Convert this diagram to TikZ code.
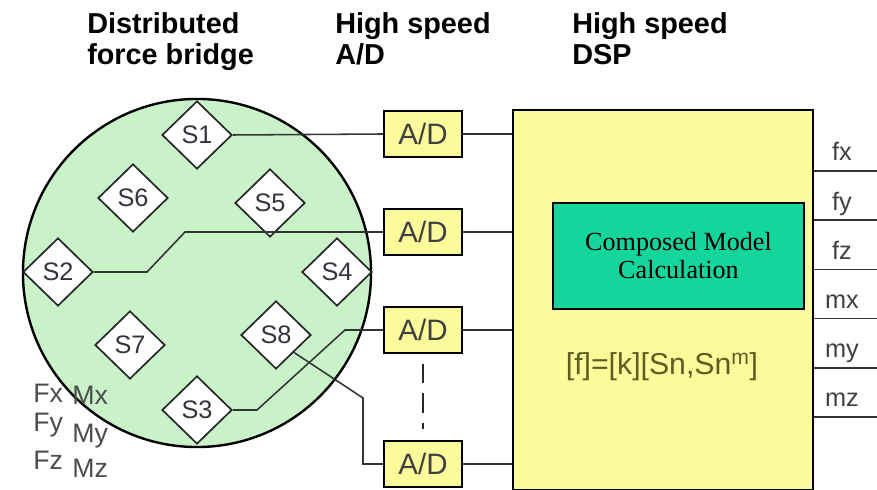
\documentclass[tikz,border=0pt]{standalone}
\usepackage{fontspec}
\setmainfont{Liberation Sans}
\newfontfamily\timesfont{Liberation Serif}
\usetikzlibrary{shapes,positioning,calc}
\definecolor{plategreen}{HTML}{C9F2C9}
\definecolor{boxyellow}{HTML}{FBFB9C}
\definecolor{calcgreen}{HTML}{14D69C}
\definecolor{formulaolive}{HTML}{5E5E22}
\definecolor{labelgray}{HTML}{33333D}

\begin{document}
\begin{tikzpicture}[x=0.025cm, y=-0.025cm,
    heading/.style={anchor=north west, inner sep=0pt, align=left, font=\fontsize{20.5}{22}\selectfont\bfseries},
    sensor/.style={diamond, draw=black!85, fill=white, line width=1.2pt, minimum width=1.75cm, minimum height=1.7cm, inner sep=0pt, text=labelgray, font=\fontsize{18}{18}\selectfont},
    adc/.style={rectangle, draw=black, fill=boxyellow, line width=1.6pt, minimum width=1.95cm, minimum height=1.15cm, inner sep=0pt, text=black!75, font=\fontsize{21}{21}\selectfont},
    wire/.style={draw=black!80, line width=1.1pt},
    output/.style={anchor=base, inner sep=0pt, text=black!75, font=\fontsize{18}{18}\selectfont},
    loadlbl/.style={anchor=base west, inner sep=0pt, text=black!70, font=\fontsize{19}{19}\selectfont}
]
\useasboundingbox (0,0) rectangle (877,490);

% Headings
\node[heading] (hbridge) at (87,12) {Distributed\\force bridge};
\node[heading] (hadc) at (335,12) {High speed\\A/D};
\node[heading] (hdsp) at (572,12) {High speed\\DSP};

% Force plate
\node[circle, draw=black, fill=plategreen, line width=1.7pt, minimum size=8.7cm] (plate) at (197,273) {};

% DSP block
\node[rectangle, draw=black, fill=boxyellow, line width=1.6pt, minimum width=7.5cm, minimum height=9.5cm] (dsp) at (663,300) {};
\node[draw=black, fill=calcgreen, line width=1.2pt, minimum width=6.275cm, minimum height=2.65cm, align=center, font=\timesfont\fontsize{18.6}{19.9}\selectfont] (calc) at (678.5,256) {Composed Model\\Calculation};
\node[text=formulaolive, font=\fontsize{21.5}{21.5}\selectfont] (formula) at (662,367) {[f]=[k][Sn,Sn\textsuperscript{m}]};

% Sensors
\node[sensor] (s1) at (197,135) {S1};
\node[sensor] (s2) at (58,272) {S2};
\node[sensor] (s3) at (197,410) {S3};
\node[sensor] (s4) at (337,272) {S4};
\node[sensor] (s5) at (270,203) {S5};
\node[sensor] (s6) at (133,198) {S6};
\node[sensor] (s7) at (130,345) {S7};
\node[sensor] (s8) at (276,335) {S8};

% A/D converters
\node[adc] (ad1) at (423,134) {A/D};
\node[adc] (ad2) at (423,232) {A/D};
\node[adc] (ad3) at (423,330) {A/D};
\node[adc] (ad4) at (423,464) {A/D};
\draw[black!85, line width=1.5pt, dash pattern=on 14pt off 7pt, shorten <=6.7pt, shorten >=7.4pt] (ad3.south) -- (ad4.north);

% Wiring
\draw[wire] (s1.east) -- (ad1.west);
\draw[wire] (s2.east) -- (147,272) -- (185,232) -- (ad2.west);
\draw[wire] (s3.east) -- (257,410) -- (345,330) -- (ad3.west);
\draw[wire] (s8.south east) -- (363,398) -- (363,464) -- (ad4.west);
\foreach \n in {1,...,4}
    \draw[wire] (ad\n.east) -- (ad\n.east -| dsp.west);

% Outputs
\foreach \lbl [count=\i] in {fx,fy,fz,mx,my,mz} {
    \coordinate (out\i) at (877,{171+49.2*(\i-1)});
    \draw[wire] (dsp.east |- out\i) -- (out\i);
    \node[output] (lbl\i) at (842,{161+49.2*(\i-1)}) {\lbl};
}

% Load components
\node[loadlbl] (fx) at (33,403) {Fx};
\node[loadlbl] (mx) at (72,405) {Mx};
\node[loadlbl] (fy) at (33,432) {Fy};
\node[loadlbl] (my) at (72,443) {My};
\node[loadlbl] (fz) at (33,470) {Fz};
\node[loadlbl] (mz) at (72,478) {Mz};

\end{tikzpicture}
\end{document}
